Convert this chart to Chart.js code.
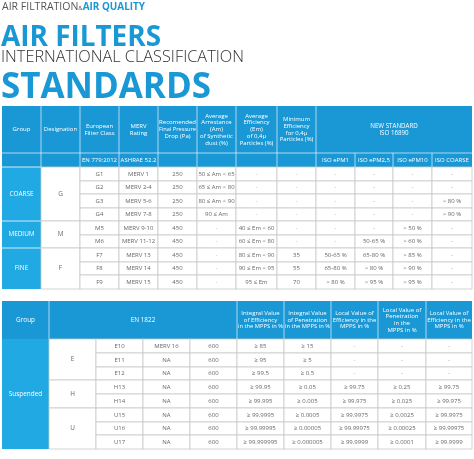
<!DOCTYPE html>
<html><head><meta charset="utf-8">
<script src="https://cdn.jsdelivr.net/npm/chart.js@4"></script>
<style>html,body{margin:0;padding:0;background:#fff}#w{width:474px;height:459px;position:relative}</style>
</head><body><div id="w"><canvas id="c"></canvas></div>
<script>
// ---- Table 1 data ----
const t1Cols = [2, 41, 80, 119, 158, 197, 236, 277, 316, 355, 393, 432, 472];
const t1Rows = [106, 153, 167, 181, 194, 208, 221, 235, 248, 262, 275, 289];
const t1Headers = ["Group","Designation","European\nFilter Class","MERV\nRating","Recomended\nFinal Pressure\nDrop (Pa)","Average\nArrestance\n(Am)\nof Synthetic\ndust (%)","Average\nEfficiency\n(Em)\nof 0,4μ\nParticles (%)","Minimum\nEfficiency\nfor 0,4μ\nParticles (%)"];
const t1NewStd = "NEW STANDARD\nISO 16890";
const t1Sub = ["","","EN 779:2012","ASHRAE 52.2","","","","","ISO ePM1","ISO ePM2,5","ISO ePM10","ISO COARSE"];
const t1Groups = [["COARSE",0,4],["MEDIUM",4,6],["FINE",6,9]];
const t1Design = [["G",0,4],["M",4,6],["F",6,9]];
const t1Body = [
 ["G1","MERV 1","250","50 ≤ Am < 65","-","-","-","-","-","-"],
 ["G2","MERV 2-4","250","65 ≤ Am < 80","-","-","-","-","-","-"],
 ["G3","MERV 5-6","250","80 ≤ Am < 90","-","-","-","-","-","> 80 %"],
 ["G4","MERV 7-8","250","90 ≤ Am","-","-","-","-","-","> 90 %"],
 ["M5","MERV 9-10","450","-","40 ≤ Em < 60","-","-","-","> 50 %","-"],
 ["M6","MERV 11-12","450","-","60 ≤ Em < 80","-","-","50-65 %","> 60 %","-"],
 ["F7","MERV 13","450","-","80 ≤ Em < 90","35","50-65 %","65-80 %","> 85 %","-"],
 ["F8","MERV 14","450","-","90 ≤ Em < 95","55","65-80 %","> 80 %","> 90 %","-"],
 ["F9","MERV 15","450","-","95 ≤ Em","70","> 80 %","> 95 %","> 95 %","-"]
];
// ---- Table 2 data ----
const t2Cols = [2, 49, 96, 143, 190, 237, 284, 331, 378, 426, 472];
const t2Rows = [301, 339, 353, 367, 380, 394, 408, 422, 435, 449];
const t2Headers = ["Group","EN 1822","","","","Integral Value\nof Efficiency\nin the MPPS in %","Integral Value\nof Penetration\nin the MPPS in %","Local Value of\nEfficiency in the\nMPPS in %","Local Value of\nPenetration\nin the\nMPPS in %","Local Value of\nEfficiency in the\nMPPS in %"];
const t2Group = "Suspended";
const t2Design = [["E",0,3],["H",3,5],["U",5,8]];
const t2Body = [
 ["E10","MERV 16","600","≥ 85","≥ 15","-","-","-"],
 ["E11","NA","600","≥ 95","≥ 5","-","-","-"],
 ["E12","NA","600","≥ 99.5","≥ 0.5","-","-","-"],
 ["H13","NA","600","≥ 99.95","≥ 0.05","≥ 99.75","≥ 0.25","≥ 99.75"],
 ["H14","NA","600","≥ 99.995","≥ 0.005","≥ 99.975","≥ 0.025","≥ 99.975"],
 ["U15","NA","600","≥ 99.9995","≥ 0.0005","≥ 99.9975","≥ 0.0025","≥ 99.9975"],
 ["U16","NA","600","≥ 99.99995","≥ 0.00005","≥ 99.99975","≥ 0.00025","≥ 99.99975"],
 ["U17","NA","600","≥ 99.999995","≥ 0.000005","≥ 99.9999","≥ 0.0001","≥ 99.9999"]
];
const BLUE = "#1a98d5", LBLUE = "#20a9e3", GRID = "#c8c8c8", TXT = "#666";
const F = "'Open Sans', sans-serif";

const tablePlugin = {
  id: "tbl",
  afterDraw(chart) {
    const ctx = chart.ctx, xs = chart.scales.x, ys = chart.scales.y;
    const X = v => xs.getPixelForValue(v), Y = v => ys.getPixelForValue(v);
    const rect = (x0,y0,x1,y1,fill,stroke) => {
      ctx.fillStyle = fill; ctx.fillRect(X(x0),Y(y0),X(x1)-X(x0),Y(y1)-Y(y0));
      if (stroke) { ctx.strokeStyle = stroke; ctx.lineWidth = 0.8; ctx.strokeRect(X(x0),Y(y0),X(x1)-X(x0),Y(y1)-Y(y0)); }
    };
    const text = (s,x0,y0,x1,y1,col,size,bold) => {
      const lines = s.split("\n"); ctx.fillStyle = col;
      ctx.font = (bold?"600 ":"") + size + "px " + F;
      ctx.textAlign = "center"; ctx.textBaseline = "middle";
      const lh = size*1.12, cx = (X(x0)+X(x1))/2, cy = (Y(y0)+Y(y1))/2;
      lines.forEach((l,i) => ctx.fillText(l, cx, cy + (i-(lines.length-1)/2)*lh, X(x1)-X(x0)-2));
    };
    // Titles
    ctx.textAlign = "left"; ctx.textBaseline = "alphabetic";
    ctx.font = "400 10.5px " + F; ctx.fillStyle = "#555"; ctx.fillText("AIR FILTRATION", 2, 10);
    let w = ctx.measureText("AIR FILTRATION").width;
    ctx.font = "400 6px " + F; ctx.fillText("&", 2+w, 10); w += ctx.measureText("&").width;
    ctx.font = "700 10.5px " + F; ctx.fillStyle = BLUE; ctx.fillText("AIR QUALITY", 2+w, 10, 143-w);
    ctx.font = "700 29px " + F; ctx.fillStyle = BLUE; ctx.fillText("AIR FILTERS", 1, 46, 160);
    ctx.font = "300 17px " + F; ctx.fillStyle = "#333"; ctx.fillText("INTERNATIONAL CLASSIFICATION", 1, 62, 243);
    ctx.font = "700 35px " + F; ctx.fillStyle = BLUE; ctx.fillText("STANDARDS", 1, 98, 210);

    // ---- Table 1 ----
    const c = t1Cols, r = t1Rows;
    rect(c[0], r[0], c[12], r[2], BLUE);
    for (let i=0;i<8;i++) text(t1Headers[i], c[i], r[0], c[i+1], r[1], "#fff", 6);
    text(t1NewStd, c[8], r[0], c[12], r[1], "#fff", 6.2);
    ctx.strokeStyle = "rgba(255,255,255,0.8)"; ctx.lineWidth = 0.8;
    for (let i=1;i<12;i++) { ctx.beginPath(); ctx.moveTo(X(c[i]), Y(i>8? r[1]: r[0])); ctx.lineTo(X(c[i]), Y(r[2])); ctx.stroke(); }
    ctx.beginPath(); ctx.moveTo(X(c[0]),Y(r[1])); ctx.lineTo(X(c[12]),Y(r[1])); ctx.stroke();
    t1Sub.forEach((s,i)=>{ if(s) text(s, c[i], r[1], c[i+1], r[2], "#fff", 6); });
    t1Groups.forEach(([g,a,b]) => { rect(c[0], r[a+2], c[1], r[b+2], LBLUE); text(g, c[0], r[a+2], c[1], r[b+2], "#fff", 6.4); });
    ctx.strokeStyle = "#fff"; t1Groups.forEach(([g,a])=>{ ctx.beginPath(); ctx.moveTo(X(c[0]),Y(r[a+2])); ctx.lineTo(X(c[1]),Y(r[a+2])); ctx.stroke(); });
    t1Design.forEach(([g,a,b]) => { rect(c[1], r[a+2], c[2], r[b+2], "#fff", GRID); text(g, c[1], r[a+2], c[2], r[b+2], TXT, 6.4); });
    t1Body.forEach((row,ri) => row.forEach((s,ci) => {
      rect(c[ci+2], r[ri+2], c[ci+3], r[ri+3], "#fff", GRID);
      text(s, c[ci+2], r[ri+2], c[ci+3], r[ri+3], s==="-" ? "#aaa" : TXT, 6);
    }));

    // ---- Table 2 ----
    const c2 = t2Cols, r2 = t2Rows;
    rect(c2[0], r2[0], c2[10], r2[1], BLUE);
    text(t2Headers[0], c2[0], r2[0], c2[1], r2[1], "#fff", 6.4);
    text(t2Headers[1], c2[1], r2[0], c2[5], r2[1], "#fff", 6.4);
    for (let i=5;i<10;i++) text(t2Headers[i], c2[i], r2[0], c2[i+1], r2[1], "#fff", 6);
    ctx.strokeStyle = "rgba(255,255,255,0.8)";
    [1,5,6,7,8,9].forEach(i => { ctx.beginPath(); ctx.moveTo(X(c2[i]),Y(r2[0])); ctx.lineTo(X(c2[i]),Y(r2[1])); ctx.stroke(); });
    rect(c2[0], r2[1], c2[1], r2[9], LBLUE); text(t2Group, c2[0], r2[1], c2[1], r2[9], "#fff", 6.4);
    t2Design.forEach(([g,a,b]) => { rect(c2[1], r2[a+1], c2[2], r2[b+1], "#fff", GRID); text(g, c2[1], r2[a+1], c2[2], r2[b+1], TXT, 6.4); });
    t2Body.forEach((row,ri) => row.forEach((s,ci) => {
      rect(c2[ci+2], r2[ri+1], c2[ci+3], r2[ri+2], "#fff", GRID);
      text(s, c2[ci+2], r2[ri+1], c2[ci+3], r2[ri+2], s==="-" ? "#aaa" : TXT, 6);
    }));
  }
};

new Chart(document.getElementById("c"), {
  type: "scatter",
  data: { datasets: [{ data: [], pointRadius: 0 }] },
  options: {
    responsive: true, maintainAspectRatio: false, animation: false,
    layout: { padding: 0 },
    plugins: { legend: { display: false }, tooltip: { enabled: false } },
    scales: {
      x: { type: "linear", min: 0, max: 474, display: false },
      y: { type: "linear", min: 0, max: 459, reverse: true, display: false }
    }
  },
  plugins: [tablePlugin]
});
</script></body></html>
